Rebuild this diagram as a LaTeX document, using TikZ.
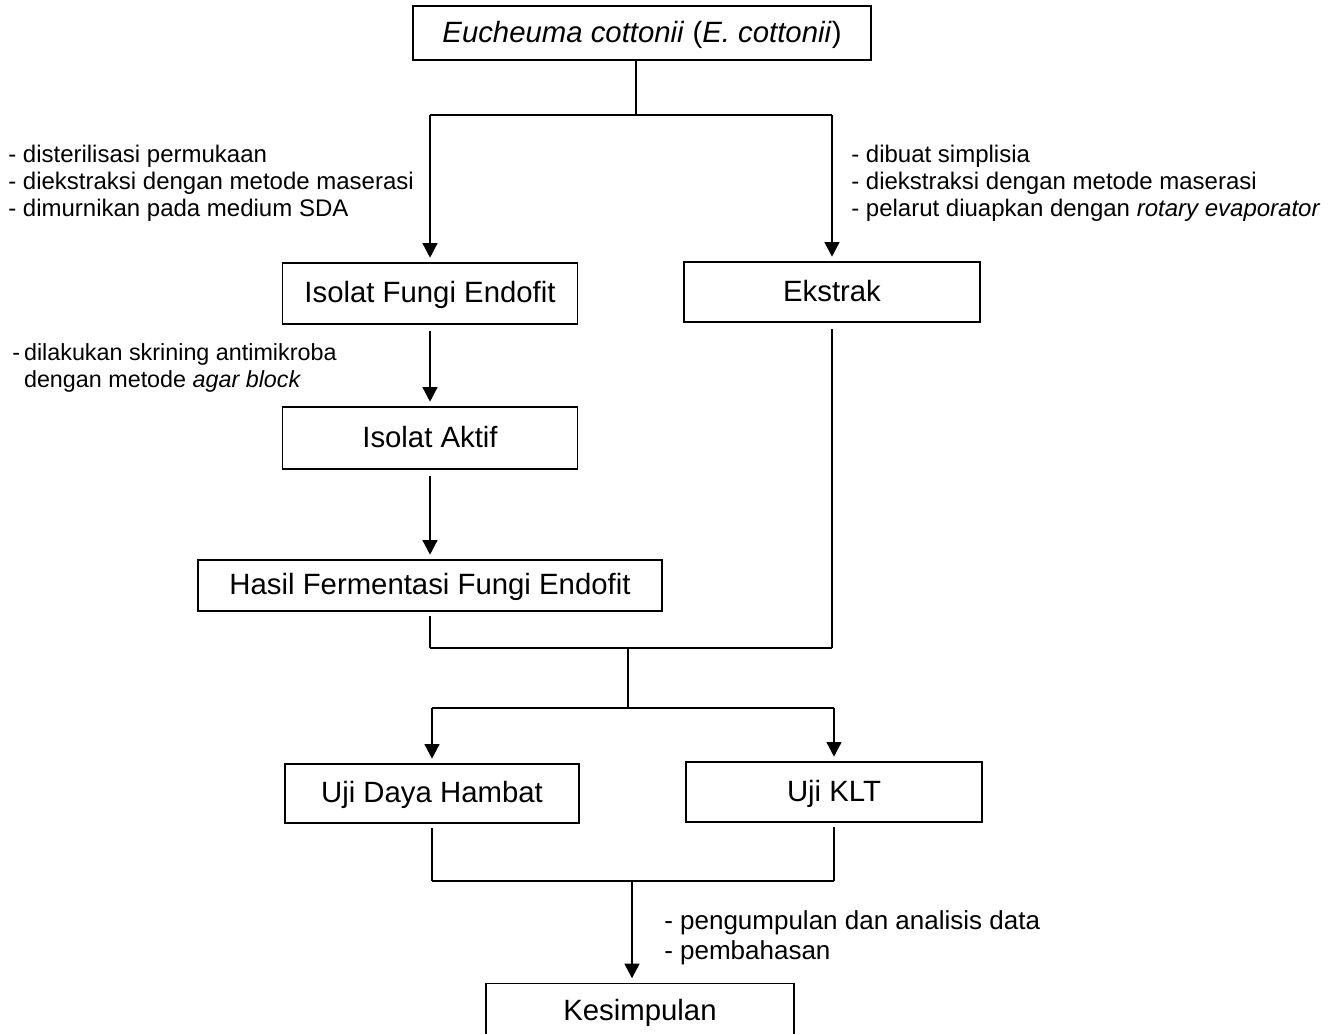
\documentclass[tikz,border=0pt]{standalone}
\usepackage{fontspec}
\setmainfont{Liberation Sans}
\usetikzlibrary{arrows.meta}
\newcommand\boxfont{\fontsize{22}{26}\selectfont}
\newcommand\lblfont{\fontsize{18}{20.25}\selectfont}
\newcommand\lblmfont{\fontsize{17.5}{20.25}\selectfont}
\newcommand\lblbfont{\fontsize{19.5}{22.5}\selectfont}
\tikzset{
 box/.style={draw, line width=0.9pt, inner sep=0pt, font=\boxfont, text height=15.75pt, text depth=2.2pt},
 dim/.style n args={2}{minimum width=#1*0.75pt, minimum height=#2*0.75pt},
 arr/.style={line width=1.8pt, -{Triangle[length=11pt,width=11pt]}, shorten >=3.5pt},
 ln/.style={line width=1.2pt},
 lbl/.style={align=left, font=\lblfont, inner sep=0pt, anchor=west}
}
\begin{document}
\begin{tikzpicture}[x=0.75pt,y=-0.75pt]
\useasboundingbox (0,0) rectangle (1339,1034);
% boxes
\node[box, dim={458}{54}] (top) at (642,33) {\textit{Eucheuma cottonii} (\textit{E. cottonii})};
\node[box, dim={295}{61}] (ifungi) at (430,293.5) {Isolat Fungi Endofit};
\node[box, dim={296}{60}] (ekstrak) at (832,292) {Ekstrak};
\node[box, dim={295}{62}] (aktif) at (430,438) {Isolat Aktif};
\node[box, dim={464}{51}] (hasil) at (430,585.5) {Hasil Fermentasi Fungi Endofit};
\node[box, dim={294}{59}] (daya) at (432,793.5) {Uji Daya Hambat};
\node[box, dim={296}{60}] (klt) at (834,792) {Uji KLT};
\node[box, dim={308}{56}, anchor=north] (kes) at (640,983) {};
\node[font=\boxfont, inner sep=0pt, text height=15.75pt, text depth=0pt] (kestext) at (640,1010) {Kesimpulan};
% junction coordinates
\coordinate (j1) at (636,115);
\coordinate (j1l) at (430,115);
\coordinate (j1r) at (832,115);
\coordinate (j2) at (628,648);
\coordinate (j2l) at (430,648);
\coordinate (j2r) at (832,648);
\coordinate (j3) at (628,708);
\coordinate (j3l) at (432,708);
\coordinate (j3r) at (834,708);
\coordinate (j4) at (632,881);
\coordinate (j4l) at (432,881);
\coordinate (j4r) at (834,881);
% connectors
\draw[ln] (top.south -| j1) -- (j1);
\draw[ln] (j1l) -- (j1r);
\draw[arr] (j1l) -- (ifungi.north);
\draw[arr] (j1r) -- (ekstrak.north);
\draw[arr, shorten <=5pt] (ifungi.south) -- (aktif.north);
\draw[arr, shorten <=5pt] (aktif.south) -- (hasil.north);
\draw[ln, shorten <=3pt] (hasil.south) -- (j2l);
\draw[ln, shorten <=5pt] (ekstrak.south) -- (j2r);
\draw[ln] (j2l) -- (j2r);
\draw[ln] (j2) -- (j3);
\draw[ln] (j3l) -- (j3r);
\draw[arr] (j3l) -- (daya.north);
\draw[arr] (j3r) -- (klt.north);
\draw[ln, shorten <=3pt] (daya.south) -- (j4l);
\draw[ln, shorten <=3pt] (klt.south) -- (j4r);
\draw[ln] (j4l) -- (j4r);
\draw[arr] (j4) -- (kes.north -| j4);
% labels
\node[lbl] (l1) at (8,183) {- disterilisasi permukaan\\- diekstraksi dengan metode maserasi\\- dimurnikan pada medium SDA};
\node[lbl] (r1) at (851,183) {- dibuat simplisia\\- diekstraksi dengan metode maserasi\\- pelarut diuapkan dengan \textit{rotary evaporator}};
\node[lbl, font=\lblmfont] (l2) at (12,369) {\begin{tabular}{@{}l@{\hspace{3pt}}l@{}}-&dilakukan skrining antimikroba\\&dengan metode \textit{agar block}\end{tabular}};
\node[lbl, font=\lblbfont] (b1) at (664,938) {- pengumpulan dan analisis data\\- pembahasan};
\end{tikzpicture}
\end{document}
